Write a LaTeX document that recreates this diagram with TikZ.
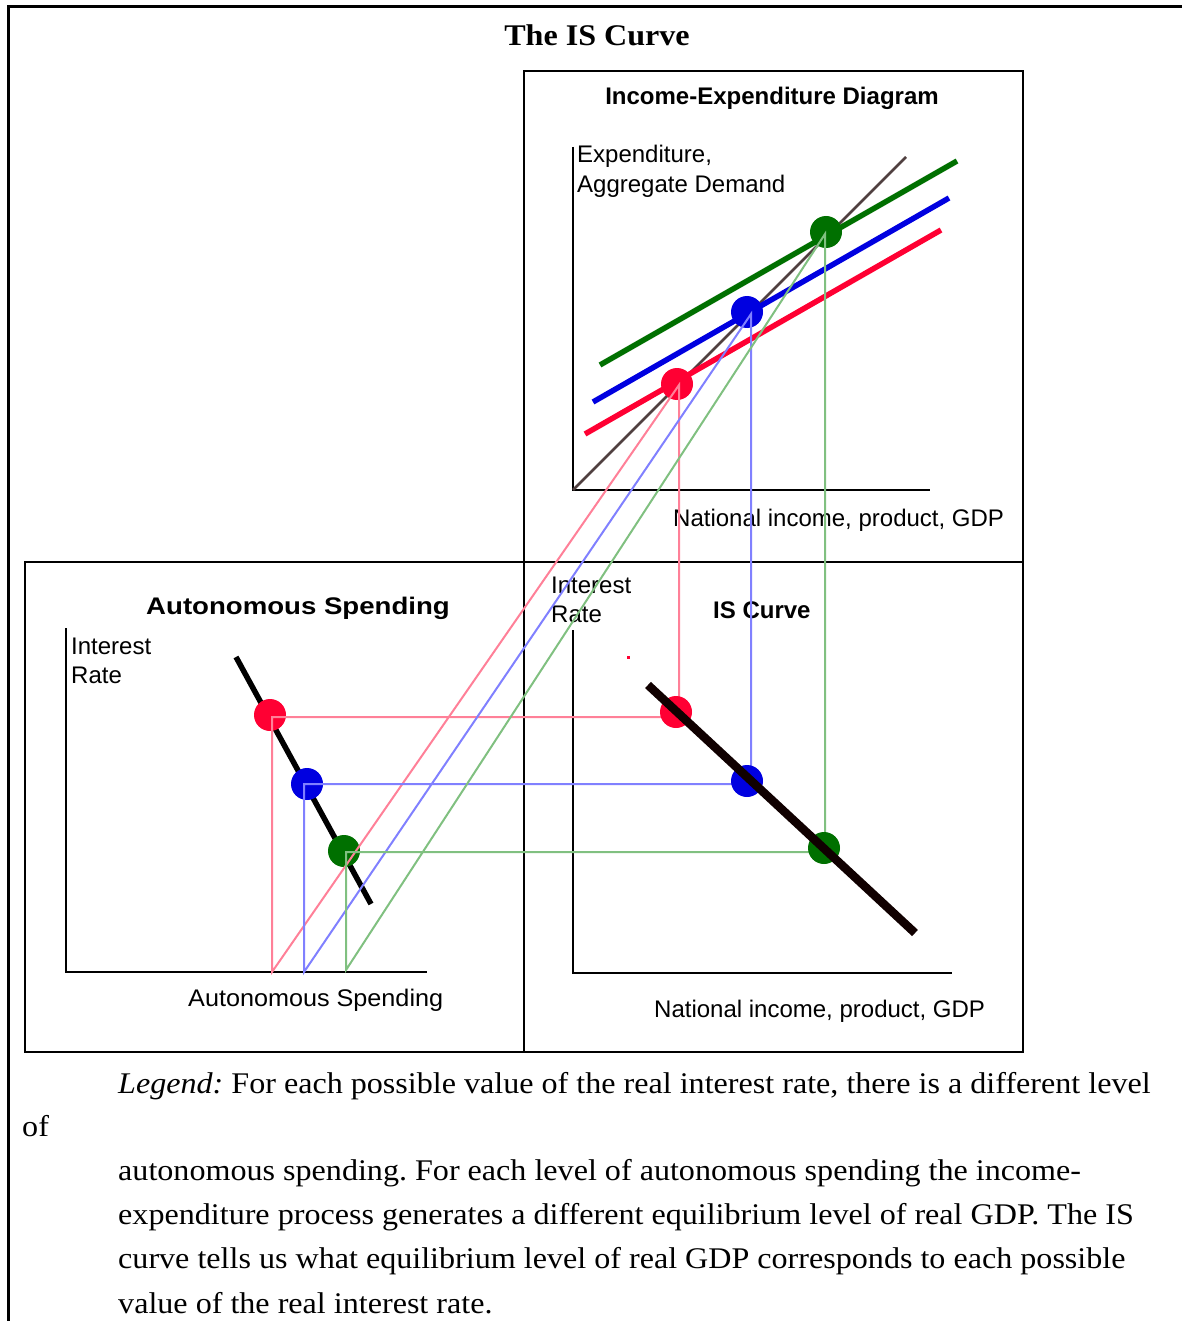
\documentclass[tikz,border=0pt]{standalone}
\usepackage{fontspec}
\setmainfont{Liberation Serif}
\setsansfont{Liberation Sans}
\definecolor{dotred}{HTML}{FF0033}
\definecolor{dotblue}{HTML}{0000E0}
\definecolor{dotgreen}{HTML}{007000}
\definecolor{fortyfive}{HTML}{504040}
\definecolor{guidered}{HTML}{FF8098}
\definecolor{guideblue}{HTML}{8080FF}
\definecolor{guidegreen}{HTML}{80C080}
\definecolor{isblack}{HTML}{100000}
\frenchspacing
\begin{document}
\begin{tikzpicture}[x=1pt,y=-1pt,
  frame/.style={line width=2.2pt,black},
  axis/.style={line width=2.2pt,black},
  ad/.style={line width=5.5pt},
  guide/.style={line width=2pt},
  dot/.style={circle,inner sep=0pt,minimum size=32pt,fill=#1,draw=none},
  lbl/.style={font=\fontsize{24}{30}\selectfont\sffamily,inner sep=0pt},
  blbl/.style={font=\fontsize{24}{30}\selectfont\sffamily\bfseries,inner sep=0pt},
  leg/.style={font=\fontsize{30}{44}\selectfont,inner sep=0pt,anchor=base west}]
\useasboundingbox (0,0) rectangle (1182,1321);
% outer frame
\draw[line width=3pt] (8,1321) -- (8,7) -- (1182,7);
\node[font=\fontsize{30}{36}\selectfont\bfseries,inner sep=0pt,anchor=base] (title) at (597,46) {\scalebox{1.07}[1]{The IS Curve}};
% panel boxes
\draw[frame] (524,71) rectangle (1023,562);
\draw[frame] (25,562) rectangle (524,1052);
\draw[frame] (524,562) rectangle (1023,1052);
% ---------------- income-expenditure panel
\node[blbl,anchor=base] (ietitle) at (772,105) {Income-Expenditure Diagram};
\draw[axis] (573,147) -- (573,490) -- (930,490);
\node[lbl,anchor=base west] (ey1) at (577,163) {Expenditure,};
\node[lbl,anchor=base west] (ey2) at (577,193) {Aggregate Demand};
\node[lbl,anchor=base west] (ex) at (673,526) {National income, product, GDP};
\draw[line width=2.5pt,fortyfive] (573,490) -- (906,157);
\draw[ad,dotgreen] (600,365) -- (957,161);
\draw[ad,dotblue] (593,402) -- (949,198);
\draw[ad,dotred] (585,434) -- (941,230);
\node[dot=dotgreen] (eG) at (826,232) {};
\node[dot=dotblue] (eB) at (747,312) {};
\node[dot=dotred] (eR) at (677,384) {};
% ---------------- autonomous spending panel
\node[blbl,anchor=base] (astitle) at (298,614) {\scalebox{1.15}[1]{Autonomous Spending}};
\draw[axis] (66,628) -- (66,972) -- (427,972);
\node[lbl,anchor=base west] (ay1) at (71,654) {Interest};
\node[lbl,anchor=base west] (ay2) at (71,683) {Rate};
\node[lbl,anchor=base west] (ax) at (188,1006) {\scalebox{1.05}[1]{Autonomous Spending}};
\draw[line width=5.5pt,black] (236,657) -- (371,904);
\node[dot=dotred] (aR) at (270,715) {};
\node[dot=dotblue] (aB) at (307,784) {};
\node[dot=dotgreen] (aG) at (344,851) {};
% ---------------- IS panel
\node[lbl,anchor=base west] (iy1) at (551,593) {Interest};
\node[lbl,anchor=base west] (iy2) at (551,622) {Rate};
\node[blbl,anchor=base west] (istitle) at (713,618) {IS Curve};
\draw[axis] (573,630) -- (573,973) -- (952,973);
\node[lbl,anchor=base west] (ix) at (654,1017) {National income, product, GDP};
\fill[dotred] (627,656) rectangle (630,659);
% guide coordinates
\coordinate (kR) at (272,717);
\coordinate (bR) at (272,972);
\coordinate (tR) at (679,385);
\coordinate (kB) at (304,784);
\coordinate (bB) at (304,972);
\coordinate (tB) at (751,314);
\coordinate (kG) at (346,852);
\coordinate (bG) at (346,970);
\coordinate (tG) at (825,234);
\coordinate (iRc) at (676,712);
\coordinate (iBc) at (747,781);
\coordinate (iGc) at (824,848);
% guides
\draw[guide,guidered] (kR -| iRc) -- (kR) -- (bR) -- (tR) -- (tR |- iRc);
\draw[guide,guideblue] (kB -| iBc) -- (kB) -- (bB) -- (tB) -- (tB |- iBc);
\draw[guide,guidegreen] (kG -| iGc) -- (kG) -- (bG) -- (tG) -- (tG |- iGc);
% IS dots and curve
\node[dot=dotred] (iR) at (iRc) {};
\node[dot=dotblue] (iB) at (iBc) {};
\node[dot=dotgreen] (iG) at (iGc) {};
\draw[line width=8.5pt,isblack] (648,685) -- (915,933);
% ---------------- legend
\node[leg] (l1) at (118,1093) {\scalebox{1.07}[1]{\textit{Legend:} For each possible value of the real interest rate, there is a different level}};
\node[leg] (l2) at (22,1136) {\scalebox{1.07}[1]{of}};
\node[leg] (l3) at (118,1180) {\scalebox{1.07}[1]{autonomous spending. For each level of autonomous spending the income-}};
\node[leg] (l4) at (118,1224) {\scalebox{1.07}[1]{expenditure process generates a different equilibrium level of real GDP. The IS}};
\node[leg] (l5) at (118,1268) {\scalebox{1.07}[1]{curve tells us what equilibrium level of real GDP corresponds to each possible}};
\node[leg] (l6) at (118,1313) {\scalebox{1.07}[1]{value of the real interest rate.}};
\end{tikzpicture}
\end{document}
